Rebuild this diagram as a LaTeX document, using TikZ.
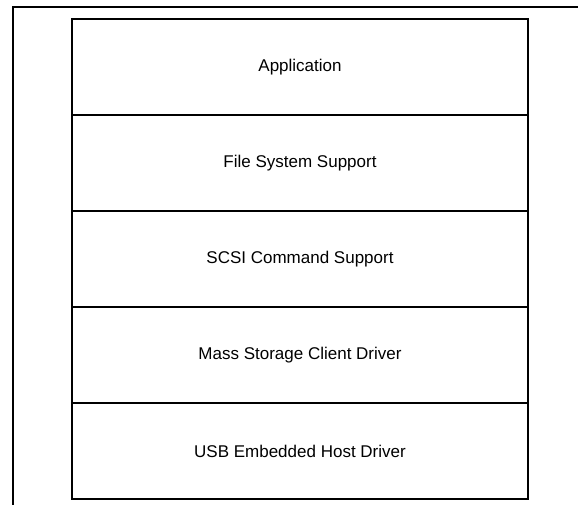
\documentclass[tikz,border=0pt]{standalone}
\usepackage{fontspec}
\setmainfont{Liberation Sans}
\usetikzlibrary{positioning}
\tikzset{layer/.style={draw, line width=2pt, minimum width=342pt, minimum height=72pt, inner sep=0pt, outer sep=0pt}}
\begin{document}
\begin{tikzpicture}[x=0.75pt, y=-0.75pt, font=\fontsize{12.75}{15}\selectfont, line join=miter, line cap=rect]
		\useasboundingbox (0,0) rectangle (578,506);
		\coordinate (TL) at (13,7);
		\coordinate (TR) at (578,7);
		\coordinate (BL) at (13,505);
		\draw[line width=2pt, line cap=butt] (TR)--(TL)--(BL);
		\node[layer] (app) at (300,67) {Application};
		\node[layer, below=0pt of app] (fs) {File System Support};
		\node[layer, below=0pt of fs] (scsi) {SCSI Command Support};
		\node[layer, below=0pt of scsi] (msd) {Mass Storage Client Driver};
		\node[layer, below=0pt of msd] (host) {USB Embedded Host Driver};
	\end{tikzpicture}
\end{document}
